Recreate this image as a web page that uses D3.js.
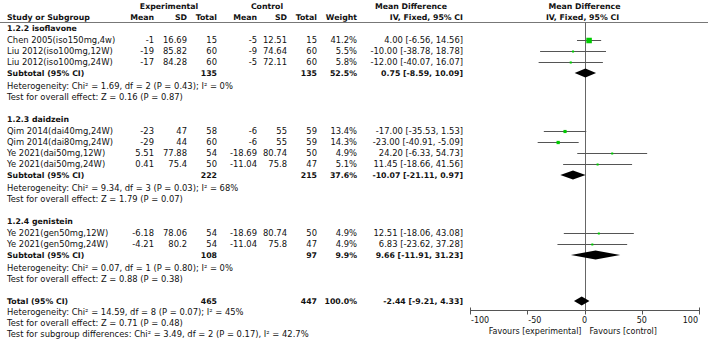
<!DOCTYPE html>
<html>
<head>
<meta charset="utf-8">
<script src="https://cdn.jsdelivr.net/npm/d3@7"></script>
<style>
  body { margin: 0; background: #fff; }
  svg { display: block; font-family: "DejaVu Sans", Verdana, sans-serif; }
  text { fill: #111; }
</style>
</head>
<body>
<div id="chart"></div>
<script>
// ---- data ----
const groupNames = ['1.2.2 isoflavone', '1.2.3 daidzein', '1.2.4 genistein'];

const studyNames = [
  'Chen 2005(iso150mg,4w)', 'Liu 2012(iso100mg,12W)', 'Liu 2012(iso100mg,24W)',
  'Qim 2014(dai40mg,24W)', 'Qim 2014(dai80mg,24W)', 'Ye 2021(dai50mg,12W)', 'Ye 2021(dai50mg,24W)',
  'Ye 2021(gen50mg,12W)', 'Ye 2021(gen50mg,24W)'
];
const studyGroup = [0, 0, 0, 1, 1, 1, 1, 2, 2];
const expMean = [-1, -19, -17, -23, -29, 5.51, 0.41, -6.18, -4.21];
const expSD   = [16.69, 85.82, 84.28, 47, 44, 77.88, 75.4, 78.06, 80.2];
const expN    = [15, 60, 60, 58, 60, 54, 50, 54, 54];
const ctlMean = [-5, -9, -5, -6, -6, -18.69, -11.04, -18.69, -11.04];
const ctlSD   = [12.51, 74.64, 72.11, 55, 55, 80.74, 75.8, 80.74, 75.8];
const ctlN    = [15, 60, 60, 59, 59, 50, 47, 50, 47];
const weights = [41.2, 5.5, 5.8, 13.4, 14.3, 4.9, 5.1, 4.9, 4.9];
const meanDiff = [4.00, -10.00, -12.00, -17.00, -23.00, 24.20, 11.45, 12.51, 6.83];
const ciLow    = [-6.56, -38.78, -40.07, -35.53, -40.91, -6.33, -18.66, -18.06, -23.62];
const ciHigh   = [14.56, 18.78, 16.07, 1.53, -5.09, 54.73, 41.56, 43.08, 37.28];

const subExpN   = [135, 222, 108];
const subCtlN   = [135, 215, 97];
const subWeight = [52.5, 37.6, 9.9];
const subMD     = [0.75, -10.07, 9.66];
const subLow    = [-8.59, -21.11, -11.91];
const subHigh   = [10.09, 0.97, 31.23];
const subChi = [1.69, 9.34, 0.07];
const subDf  = [2, 3, 1];
const subP   = [0.43, 0.03, 0.80];
const subI2  = [0, 68, 0];
const subZ   = [0.16, 1.79, 0.88];
const subZP  = [0.87, 0.07, 0.38];

const totalExpN = 465, totalCtlN = 447, totalWeight = 100.0;
const totalMD = -2.44, totalLow = -9.21, totalHigh = 4.33;
const totalChi = 14.59, totalDf = 8, totalP = 0.07, totalI2 = 45;
const totalZ = 0.71, totalZP = 0.48;
const diffChi = 3.49, diffDf = 2, diffP = 0.17, diffI2 = 42.7;

const axisTicks = [-100, -50, 0, 50, 100];

// ---- layout ----
const width = 708, height = 342;
const fs = 8.4;      // regular table text
const fsBold = 7.8;  // bold text (DejaVu bold runs wide)
const fsAxis = 8;
const col = { name: 7, eMean: 154, eSD: 187, eN: 217, cMean: 257, cSD: 287, cN: 317, w: 357, ci: 463 };

const svg = d3.select('#chart').append('svg')
  .attr('width', width)
  .attr('height', height)
  .style('font-size', fs + 'px');

svg.append('rect').attr('width', width).attr('height', height).attr('fill', '#fff');

const x = d3.scaleLinear().domain([-100, 100]).range([470, 699]);

const f2 = v => v.toFixed(2);
const ciText = (m, lo, hi) => `${f2(m)} [${f2(lo)}, ${f2(hi)}]`;

function txt(xp, yp, s, anchor = 'start', bold = false) {
  return svg.append('text')
    .attr('x', xp).attr('y', yp).attr('dy', '0.35em')
    .attr('text-anchor', anchor)
    .style('font-weight', bold ? 'bold' : 'normal')
    .style('font-size', (bold ? fsBold : fs) + 'px')
    .text(s);
}

// header
txt(169, 6, 'Experimental', 'middle', true);
txt(267, 6, 'Control', 'middle', true);
txt(411, 6, 'Mean Difference', 'middle', true);
txt(x(0), 6, 'Mean Difference', 'middle', true);
txt(col.name, 17, 'Study or Subgroup', 'start', true);
[['eMean', 'Mean'], ['eSD', 'SD'], ['eN', 'Total'], ['cMean', 'Mean'], ['cSD', 'SD'], ['cN', 'Total'], ['w', 'Weight'], ['ci', 'IV, Fixed, 95% CI']]
  .forEach(([k, s]) => txt(col[k], 17, s, 'end', true));
txt(x(0) - 2, 17, 'IV, Fixed, 95% CI', 'middle', true);

svg.append('line')
  .attr('x1', 0).attr('x2', width).attr('y1', 22.5).attr('y2', 22.5)
  .attr('stroke', '#777').attr('stroke-width', 1);

const axisY = 310.5;
svg.append('line')
  .attr('x1', Math.round(x(0)) + 0.5).attr('x2', Math.round(x(0)) + 0.5)
  .attr('y1', 22.5).attr('y2', axisY)
  .attr('stroke', '#666').attr('stroke-width', 1);

function diamond(yc, m, lo, hi) {
  const h = 4.5;
  svg.append('path')
    .attr('d', `M${x(lo)},${yc}L${x(m)},${yc - h}L${x(hi)},${yc}L${x(m)},${yc + h}Z`)
    .attr('fill', '#000');
}

// rows
let y = 28;
groupNames.forEach((g, gi) => {
  txt(col.name, y, g, 'start', true);
  y += 12;
  studyNames.forEach((s, i) => {
    if (studyGroup[i] !== gi) return;
    txt(col.name, y, s);
    txt(col.eMean, y, String(expMean[i]), 'end');
    txt(col.eSD, y, String(expSD[i]), 'end');
    txt(col.eN, y, String(expN[i]), 'end');
    txt(col.cMean, y, String(ctlMean[i]), 'end');
    txt(col.cSD, y, String(ctlSD[i]), 'end');
    txt(col.cN, y, String(ctlN[i]), 'end');
    txt(col.w, y, weights[i].toFixed(1) + '%', 'end');
    txt(col.ci, y, ciText(meanDiff[i], ciLow[i], ciHigh[i]), 'end');

    const ly = Math.round(y) + 0.5;
    svg.append('line')
      .attr('x1', x(ciLow[i])).attr('x2', x(ciHigh[i]))
      .attr('y1', ly).attr('y2', ly)
      .attr('stroke', '#555').attr('stroke-width', 1);
    const side = Math.max(2, 0.86 * Math.sqrt(weights[i]));
    svg.append('rect')
      .attr('x', x(meanDiff[i]) - side / 2).attr('y', ly - side / 2)
      .attr('width', side).attr('height', side)
      .attr('fill', '#00cc00');
    y += 11;
  });
  txt(col.name, y, 'Subtotal (95% CI)', 'start', true);
  txt(col.eN, y, String(subExpN[gi]), 'end', true);
  txt(col.cN, y, String(subCtlN[gi]), 'end', true);
  txt(col.w, y, subWeight[gi].toFixed(1) + '%', 'end', true);
  txt(col.ci, y, ciText(subMD[gi], subLow[gi], subHigh[gi]), 'end', true);
  diamond(y, subMD[gi], subLow[gi], subHigh[gi]);
  y += 13;
  txt(col.name, y, `Heterogeneity: Chi² = ${f2(subChi[gi])}, df = ${subDf[gi]} (P = ${f2(subP[gi])}); I² = ${subI2[gi]}%`);
  y += 11;
  txt(col.name, y, `Test for overall effect: Z = ${f2(subZ[gi])} (P = ${f2(subZP[gi])})`);
  y += 22;
});

// overall total
txt(col.name, y, 'Total (95% CI)', 'start', true);
txt(col.eN, y, String(totalExpN), 'end', true);
txt(col.cN, y, String(totalCtlN), 'end', true);
txt(col.w, y, totalWeight.toFixed(1) + '%', 'end', true);
txt(col.ci, y, ciText(totalMD, totalLow, totalHigh), 'end', true);
diamond(y, totalMD, totalLow, totalHigh);
txt(col.name, y + 11, `Heterogeneity: Chi² = ${f2(totalChi)}, df = ${totalDf} (P = ${f2(totalP)}); I² = ${totalI2}%`);
txt(col.name, y + 22, `Test for overall effect: Z = ${f2(totalZ)} (P = ${f2(totalZP)})`);
txt(col.name, y + 33, `Test for subgroup differences: Chi² = ${f2(diffChi)}, df = ${diffDf} (P = ${f2(diffP)}), I² = ${diffI2}%`);

// axis
const ax = svg.append('g').attr('transform', `translate(0,${axisY})`);
ax.append('line')
  .attr('x1', x(-100)).attr('x2', x(100))
  .attr('stroke', '#555');
ax.selectAll('line.tick')
  .data(axisTicks)
  .join('line')
  .classed('tick', true)
  .attr('x1', d => Math.round(x(d)) + 0.5).attr('x2', d => Math.round(x(d)) + 0.5)
  .attr('y1', d => Math.abs(d) === 100 ? -3 : 0).attr('y2', 4)
  .attr('stroke', '#555');
ax.selectAll('text.ticklabel')
  .data(axisTicks)
  .join('text')
  .classed('ticklabel', true)
  .attr('x', d => d < 0 ? x(d) + 1 : (d === 100 ? x(d) - 1 : x(d)))
  .attr('y', 9.5)
  .attr('dy', '0.35em')
  .attr('text-anchor', d => d < 0 ? 'start' : (d === 100 ? 'end' : 'middle'))
  .style('font-size', fsAxis + 'px')
  .text(d => String(d));

txt(x(0) - 3, 331, 'Favours [experimental]', 'end').style('font-size', fsAxis + 'px');
txt(x(0) + 5, 331, 'Favours [control]', 'start').style('font-size', fsAxis + 'px');
</script>
</body>
</html>
